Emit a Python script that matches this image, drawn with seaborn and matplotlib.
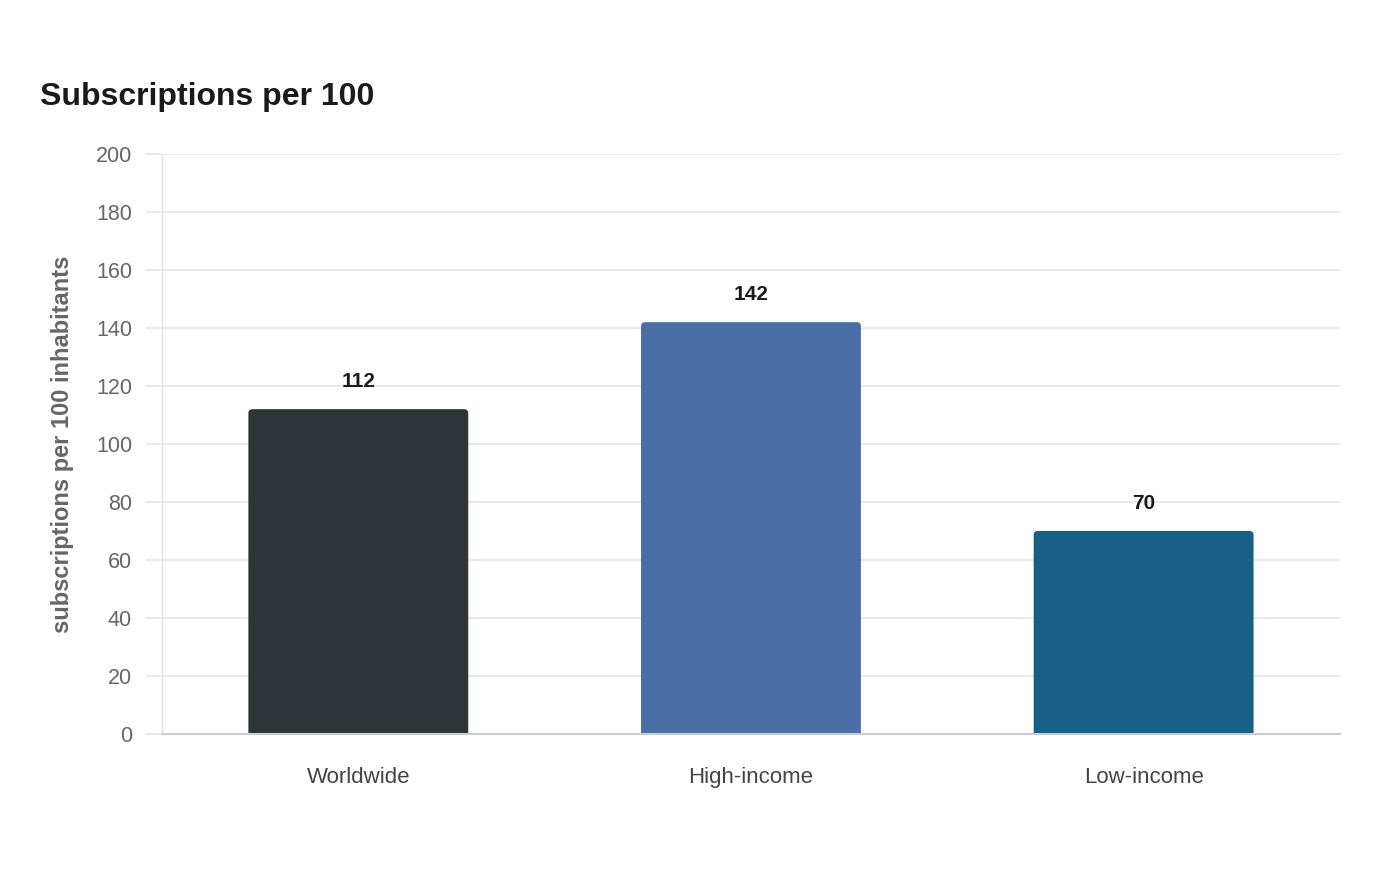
import matplotlib
matplotlib.use("Agg")
import matplotlib.pyplot as plt
from matplotlib.patches import FancyBboxPatch
import seaborn as sns
import pandas as pd

# chart data
categories = ["Worldwide", "High-income", "Low-income"]
values = [112, 142, 70]
bar_colors = ["#2d3538", "#4a6fa5", "#176087"]
y_ticks = [0, 20, 40, 60, 80, 100, 120, 140, 160, 180, 200]

df = pd.DataFrame({"region": categories, "value": values})

sns.set_theme(style="white")
plt.rcParams["font.family"] = ["Liberation Sans", "DejaVu Sans"]

fig = plt.figure(figsize=(14, 8.8), dpi=100)
ax = fig.add_axes([0.1157, 0.166, 0.8414, 0.659])

sns.barplot(data=df, x="region", y="value", hue="region", palette=bar_colors,
            width=0.56, legend=False, ax=ax, saturation=1)

# swap the plain rectangles for ones with slightly rounded tops
bars = list(ax.patches)
for p in bars:
    x0, w, h = p.get_x(), p.get_width(), p.get_height()
    fc = p.get_facecolor()
    p.remove()
    rb = FancyBboxPatch((x0, -3), w, h + 3,
                        boxstyle="round,pad=0,rounding_size=0.011",
                        mutation_aspect=125, facecolor=fc, edgecolor="none",
                        zorder=2, clip_on=True)
    ax.add_patch(rb)

for i, v in enumerate(values):
    ax.text(i, v + 9.4, str(v), ha="center", va="center", fontsize=15,
            fontweight="bold", color="#1a1a1a")

ax.set_ylim(0, 200)
ax.set_xlim(-0.5, 2.5)
ax.set_yticks(y_ticks)
ax.grid(axis="y", color="#e8e8e8", linewidth=1.2, zorder=0)
ax.set_axisbelow(True)
ax.tick_params(axis="y", left=True, length=11.5, color="#e8e8e8", width=1.2,
               pad=10, labelsize=15.5, labelcolor="#666666")
ax.tick_params(axis="x", bottom=False, length=0, pad=24, labelsize=16,
               labelcolor="#444444")

for s in ["top", "right"]:
    ax.spines[s].set_visible(False)
ax.spines["left"].set_color("#e0e0e0")
ax.spines["left"].set_linewidth(1)
ax.spines["bottom"].set_color("#cccccc")
ax.spines["bottom"].set_linewidth(1.5)

ax.set_xlabel("")
ax.set_ylabel("subscriptions per 100 inhabitants", fontsize=17,
              fontweight="bold", color="#666666", labelpad=16)

fig.text(40 / 1400, 1 - 97 / 880, "Subscriptions per 100", fontsize=23,
         fontweight="bold", color="#1a1a1a", ha="left", va="center")

fig.savefig("out.png", dpi=100)
